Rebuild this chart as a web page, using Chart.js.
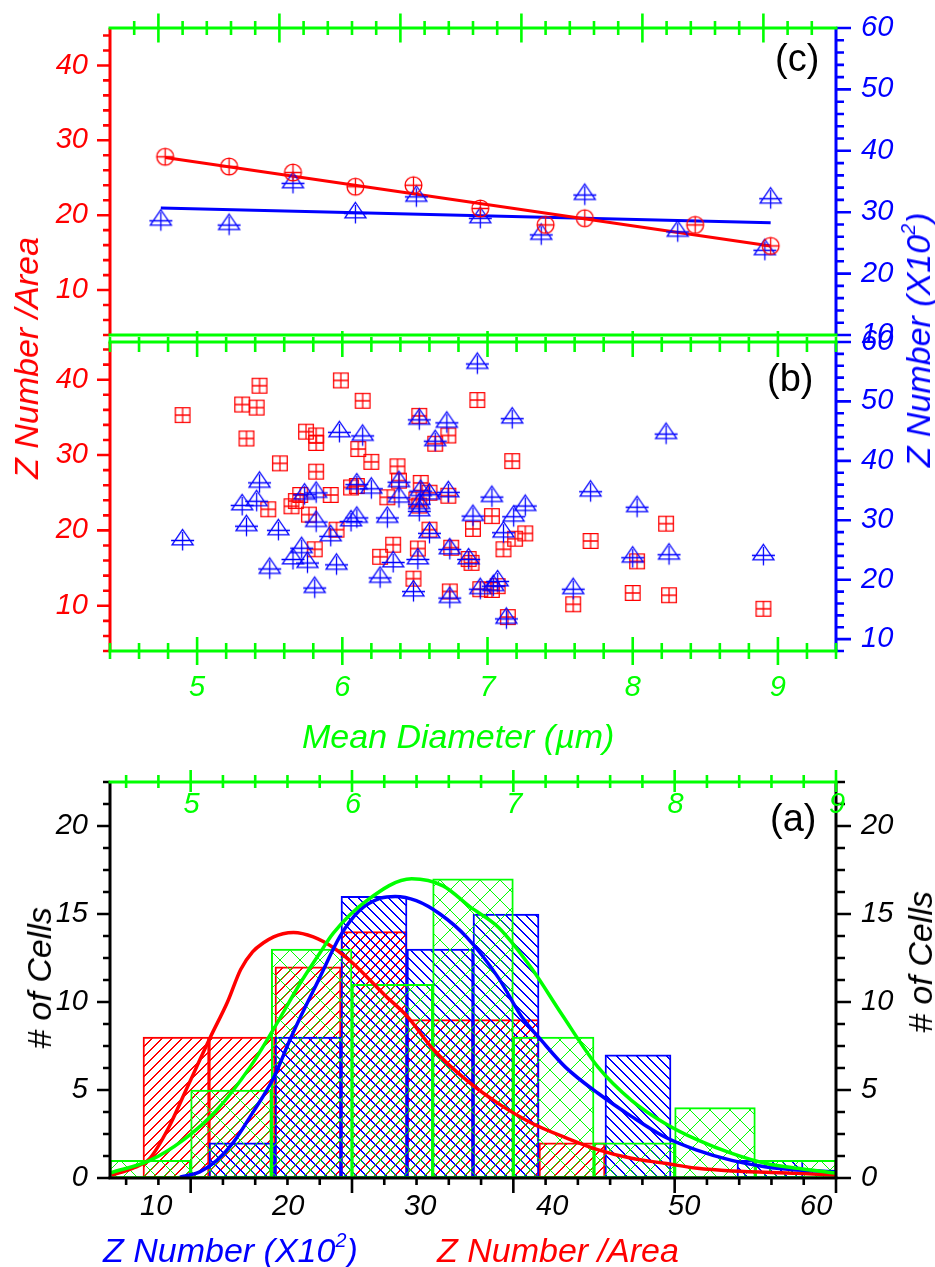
<!DOCTYPE html>
<html>
<head>
<meta charset="utf-8">
<title>Z number vs mean diameter</title>
<script src="https://cdn.jsdelivr.net/npm/chart.js@4.4.1/dist/chart.umd.min.js"></script>
<style>
html,body{margin:0;padding:0;background:#fff;}
#wrap{position:relative;width:935px;height:1267px;overflow:hidden;background:#fff;}
#wrap canvas{position:absolute;left:0;}
.lbl{position:absolute;font-family:"Liberation Sans",Arial,Helvetica,sans-serif;white-space:nowrap;line-height:1;}
.it{font-style:italic;font-size:34px;}
.rot{transform:translate(-50%,-50%) rotate(-90deg);}
.pan{font-size:38px;color:#000;}
sup{font-size:58%;line-height:0;vertical-align:0.75em;}
</style>
</head>
<body>
<div id="wrap">
  <canvas id="cC" width="935" height="360" style="top:0px;width:935px;height:360px"></canvas>
  <canvas id="cB" width="935" height="420" style="top:320px;width:935px;height:420px"></canvas>
  <canvas id="cA" width="935" height="507" style="top:760px;width:935px;height:507px"></canvas>

  <div class="lbl it rot" style="left:25.5px;top:358px;color:#ff0000">Z Number /Area</div>
  <div class="lbl it rot" style="left:917.5px;top:340px;color:#0000ff">Z Number (X10<sup>2</sup>)</div>
  <div class="lbl it" style="left:302px;top:718.6px;color:#00ff00">Mean Diameter (µm)</div>
  <div class="lbl it rot" style="left:39px;top:978px;color:#000">#&nbsp;of Cells</div>
  <div class="lbl it rot" style="left:920px;top:962px;color:#000">#&nbsp;of Cells</div>
  <div class="lbl it" style="left:103px;top:1232.6px;color:#0000ff">Z Number (X10<sup>2</sup>)</div>
  <div class="lbl it" style="left:437px;top:1232.6px;color:#ff0000">Z Number /Area</div>
  <div class="lbl pan" style="left:775px;top:39.2px">(c)</div>
  <div class="lbl pan" style="left:767px;top:358.7px">(b)</div>
  <div class="lbl pan" style="left:770px;top:798.7px">(a)</div>
</div>
<script>
// ===================== DATA =====================
// ---- Panel (c): averaged values vs mean diameter ----
const cDiamRed  = [4.78, 5.22, 5.66, 6.09, 6.49, 6.95, 7.40, 7.67, 8.43, 8.95];
const cZArea    = [27.8, 26.5, 25.7, 23.8, 24.0, 20.9, 18.7, 19.6, 18.7, 15.9];
const cDiamBlue = [4.75, 5.22, 5.66, 6.09, 6.51, 6.95, 7.37, 7.67, 8.31, 8.91, 8.95];
const cZNum     = [28.6, 27.9, 34.7, 29.8, 32.5, 29.0, 26.3, 32.8, 26.8, 23.8, 32.2];
const cFitRedX  = [4.78, 8.95];
const cFitRedY  = [27.7, 15.9];
const cFitBlueX = [4.75, 8.95];
const cFitBlueY = [30.7, 28.3];

// ---- Panel (b): individual cells ----
const bDiamRed = [4.90,5.31,5.41,5.43,5.34,5.57,5.49,5.99,6.14,5.75,5.82,5.82,6.11,6.20,5.82,6.38,6.06,6.10,5.92,5.71,
                  5.65,5.68,5.77,5.81,5.96,6.31,6.39,6.26,6.35,6.49,6.52,6.54,6.51,6.53,6.60,6.60,6.53,6.73,6.64,6.73,
                  6.75,6.74,6.93,7.17,7.03,6.90,6.89,6.87,7.19,7.26,7.11,6.95,7.03,7.07,7.14,7.59,7.71,8.00,8.03,8.23,
                  8.25,8.90];
const bZArea   = [35.3,36.7,36.3,39.2,32.2,28.9,22.8,39.9,37.2,33.1,32.6,31.6,30.8,29.1,27.8,28.5,25.7,25.9,24.7,24.7,
                  23.2,23.9,22.1,17.5,20.1,24.4,26.6,16.5,18.1,13.6,17.6,26.3,24.1,23.3,25.0,20.1,35.2,32.6,31.5,24.6,
                  17.7,11.9,37.3,29.2,21.9,20.2,15.7,16.2,18.9,19.6,17.5,12.2,12.1,12.6,8.5,10.2,18.6,11.7,15.9,20.9,
                  11.4,9.6];
const bDiamBlue = [4.90,5.31,5.34,5.43,5.41,5.56,5.50,5.66,5.72,5.76,5.81,5.74,5.82,5.82,5.92,5.96,5.98,6.14,6.10,6.06,
                   6.10,6.20,6.31,6.26,6.35,6.39,6.39,6.49,6.52,6.53,6.53,6.53,6.54,6.60,6.60,6.64,6.72,6.73,6.74,6.74,
                   6.93,7.17,7.03,6.90,7.18,7.26,7.11,6.87,6.95,7.04,7.07,7.13,7.59,7.71,8.03,8.00,8.23,8.25,8.90];
const bZNum     = [26.6,32.5,29.0,36.3,33.2,28.3,21.8,23.4,25.3,22.8,18.6,34.3,34.6,29.7,27.3,22.5,44.8,44.2,36.0,29.8,
                   30.4,35.3,30.4,20.3,22.9,36.4,33.8,18.0,23.4,46.9,31.5,32.7,34.9,34.3,27.8,43.3,46.4,34.7,25.1,16.9,
                   56.3,47.1,33.9,30.7,30.6,32.4,27.9,23.4,18.4,18.9,19.7,13.4,18.4,34.8,32.2,23.7,44.5,24.2,24.1];

// ---- Panel (a): histograms ----
const zBinCenters    = [11.5, 16.5, 21.5, 26.5, 31.5, 36.5, 41.5, 46.5, 51.5, 56.5];
const zAreaCounts    = [8, 8, 12, 14, 9, 9, 2, 0, 0, 0];
const zNumCounts     = [0, 2, 8, 16, 13, 15, 0, 7, 0, 1];
const diamBinCenters = [4.75, 5.25, 5.75, 6.25, 6.75, 7.25, 7.75, 8.25, 8.75];
const diamCounts     = [1, 5, 13, 11, 17, 8, 2, 4, 1];

const redCurveZ  = [6.6,8.2,9.5,10.9,12.2,13.3,14.1,15.4,16.4,17.3,18.1,18.9,19.6,20.4,21.9,23.4,24.9,27.3,29.0,31.0,33.6,35.9,38.5,41.0,43.5,46.0,48.5,51.0,53.6,58.6,61.5];
const redCurveN  = [0.17,0.55,1.1,2.8,4.9,6.7,8.0,10.0,11.85,12.85,13.35,13.7,13.88,13.95,13.7,13.1,12.2,10.4,9.2,7.3,5.5,4.24,3.1,2.3,1.6,1.12,0.84,0.55,0.4,0.27,0.17];
const blueCurveZ = [11.8,13.3,14.6,15.8,17.3,18.9,20.1,20.9,22.4,23.9,25.4,27.0,28.1,29.7,31.5,33.5,35.9,37.7,39.2,41.0,43.5,46.0,48.5,50.9,53.6,56.1,58.6,61.5];
const blueCurveN = [0.05,0.35,1.0,1.98,3.7,5.7,7.8,9.1,11.4,13.7,15.2,15.9,16.0,15.76,15.0,13.7,11.4,9.15,7.8,6.3,4.8,3.5,2.34,1.6,1.0,0.64,0.45,0.36];
const greenCurveD = [4.506,4.748,4.953,5.161,5.368,5.51,5.678,5.802,5.883,6.091,6.37,6.564,6.732,6.907,7.114,7.30,7.525,7.734,7.941,8.145,8.354,8.561,8.765,8.995];
const greenCurveN = [0.3,1.0,2.15,3.85,6.3,8.4,11.05,12.8,13.9,15.76,17.0,16.6,15.4,14.25,11.9,9.3,6.3,4.4,3.1,2.15,1.4,0.84,0.55,0.28];

// ---- tick labels ----
const zAreaTicks  = [10, 20, 30, 40];
const zNumTicksC  = [10, 20, 30, 40, 50, 60];
const zNumTicksB  = [10, 20, 30, 40, 50, 60];
const diamTicks   = [5, 6, 7, 8, 9];
const zTicksA     = [10, 20, 30, 40, 50, 60];
const countTicks  = [0, 5, 10, 15, 20];

// ===================== HELPERS =====================
const RED='#ff0000', BLUE='#0000ff', GREEN='#00ff00', BLACK='#000000';
const FONT='"Liberation Sans", Arial, Helvetica, sans-serif';
Chart.defaults.font.family = FONT;
const TF = {family: FONT, size: 29, style: 'italic', lineHeight: 1.2};

function steps(a, b, st){ const r=[]; for(let v=a; v<=b+1e-9; v+=st) r.push(Math.round(v*1000)/1000); return r; }
function pts(xs, ys){ return xs.map((x,i)=>({x, y: ys[i]})); }
function bins(cs, ns){ return cs.map((x,i)=>({x, y: ns[i]})).filter(p=>p.y>0); }
function fixTicks(vals){ return s => { s.ticks = vals.map(v=>({value:v})); }; }

function mk(kind, color){
  const c = document.createElement('canvas');
  const S = kind==='sq' ? 18 : kind==='circ' ? 21 : 27;
  c.width = c.height = S;
  const g = c.getContext('2d');
  g.strokeStyle = color; g.lineWidth = 1.3;
  const m = S/2;
  g.beginPath();
  if(kind==='sq'){
    const h=7.3; g.rect(m-h,m-h,2*h,2*h);
    g.moveTo(m,m-h); g.lineTo(m,m+h); g.moveTo(m-h,m); g.lineTo(m+h,m);
  } else if(kind==='circ'){
    const r=8.4; g.arc(m,m,r,0,Math.PI*2);
    g.moveTo(m,m-r); g.lineTo(m,m+r); g.moveTo(m-r,m); g.lineTo(m+r,m);
  } else {
    g.moveTo(m,m-11); g.lineTo(m+10.5,m+4.4); g.lineTo(m-10.5,m+4.4); g.closePath();
    g.moveTo(m-11.5,m); g.lineTo(m+11.5,m);
    g.moveTo(m,m-8.5); g.lineTo(m,m+10);
  }
  g.stroke();
  return c;
}

// crisp diagonal hatch tiles (w = pixels per row)
function hatch(color, P, dirs, w){
  const c = document.createElement('canvas'); c.width = c.height = P;
  const g = c.getContext('2d'); g.fillStyle = color;
  for(const d of dirs){
    for(let i=0;i<P;i++){
      for(let k=0;k<w;k++){
        const x = (i+k) % P;
        if(d==='/') g.fillRect(x, P-1-i, 1, 1);
        else g.fillRect(x, i, 1, 1);
      }
    }
  }
  return document.createElement('canvas').getContext('2d').createPattern(c,'repeat');
}

// axis lines + major/minor tick marks (and inner labels) drawn from the chart's own scales
function axesPlugin(id, specs){
  return { id, afterDatasetsDraw(chart){
    const ctx = chart.ctx, ca = chart.chartArea;
    ctx.save(); ctx.lineCap = 'butt';
    for(const s of specs){
      if(s.labels){
        const sc = chart.scales[s.scale];
        ctx.fillStyle = s.color;
        ctx.font = 'italic 29px ' + FONT;
        ctx.textAlign = 'center'; ctx.textBaseline = 'middle';
        for(const v of s.labels) ctx.fillText(String(v), sc.getPixelForValue(v)+1, ca.top + s.dy);
        continue;
      }
      ctx.strokeStyle = s.color;
      if(s.scale){
        const sc = chart.scales[s.scale];
        ctx.lineWidth = s.tw || 2.6;
        ctx.beginPath();
        for(const t of s.ticks){
          const isMaj = s.majors.some(m=>Math.abs(m-t)<1e-6);
          const [o,i] = isMaj ? s.major : s.minor;
          const p = sc.getPixelForValue(t);
          if(s.side==='left'){ ctx.moveTo(ca.left-o,p); ctx.lineTo(ca.left+i,p); }
          else if(s.side==='right'){ ctx.moveTo(ca.right-i,p); ctx.lineTo(ca.right+o,p); }
          else if(s.side==='top'){ ctx.moveTo(p,ca.top-o); ctx.lineTo(p,ca.top+i); }
          else { ctx.moveTo(p,ca.bottom-i); ctx.lineTo(p,ca.bottom+o); }
        }
        ctx.stroke();
      }
      ctx.lineWidth = s.lw || 3;
      ctx.beginPath();
      if(s.side==='left' || s.side==='right'){
        const x = s.side==='left' ? ca.left : ca.right;
        ctx.moveTo(x, ca.top); ctx.lineTo(x, ca.bottom);
      } else {
        const y = s.side==='top' ? ca.top : ca.bottom;
        ctx.moveTo(ca.left-1.5, y); ctx.lineTo(ca.right+1.5, y);
      }
      ctx.stroke();
    }
    ctx.restore();
  }};
}

function sizeIt(pos, size){
  return s => {
    if(pos==='top'||pos==='bottom') s.height = size; else s.width = size;
    s.paddingTop = 0; s.paddingBottom = 0; s.paddingLeft = 0; s.paddingRight = 0;
  };
}
function hiddenAxis(pos, min, max, size){
  return {type:'linear', position:pos, min, max, offset:false,
    ticks:{display:false}, grid:{display:false, drawTicks:false, offset:false}, border:{display:false},
    afterFit: sizeIt(pos, size)};
}
function labelAxis(pos, min, max, size, vals, color, padding){
  return {type:'linear', position:pos, min, max, offset:false,
    afterBuildTicks: fixTicks(vals),
    ticks:{color, font:TF, padding, autoSkip:false, maxRotation:0, minRotation:0},
    grid:{display:false, drawTicks:false, offset:false}, border:{display:false},
    afterFit: sizeIt(pos, size)};
}

const baseOpts = {responsive:false, animation:false, devicePixelRatio:1, events:[],
  layout:{padding:0}, plugins:{legend:{display:false}, tooltip:{enabled:false}}};

// ===================== PANEL (c) =====================
new Chart(document.getElementById('cC'), {
  type:'scatter',
  data:{datasets:[
    {type:'line', data:pts(cFitRedX,cFitRedY), xAxisID:'x', yAxisID:'y', borderColor:RED, borderWidth:3, pointRadius:0, order:3},
    {type:'line', data:pts(cFitBlueX,cFitBlueY), xAxisID:'x', yAxisID:'y2', borderColor:BLUE, borderWidth:3, pointRadius:0, order:4},
    {label:'Z Number /Area', data:pts(cDiamRed,cZArea), xAxisID:'x', yAxisID:'y', pointStyle:mk('circ',RED), pointRadius:8, order:1},
    {label:'Z Number', data:pts(cDiamBlue,cZNum), xAxisID:'x', yAxisID:'y2', pointStyle:mk('tri',BLUE), pointRadius:8, order:2}
  ]},
  options:Object.assign({}, baseOpts, {scales:{
    x: hiddenAxis('bottom', 4.4, 9.4, 25),
    xt: hiddenAxis('top', 0, 6, 28),
    y: labelAxis('left', 4, 45, 110, zAreaTicks, RED, 22),
    y2: labelAxis('right', 10, 60, 99, zNumTicksC, BLUE, 25)
  }}),
  plugins:[axesPlugin('axC', [
    {side:'left', scale:'y', color:RED, ticks:steps(4,44,2), majors:zAreaTicks, major:[13,0], minor:[7,0]},
    {side:'right', scale:'y2', color:BLUE, ticks:steps(10,60,2), majors:zNumTicksC, major:[15,0], minor:[8,0]},
    {side:'top', scale:'xt', color:GREEN, ticks:steps(0.2,5.8,0.2), majors:[0.4,1.4,2.4,3.4,4.4,5.4], major:[14.5,14.5], minor:[7,7]},
    {side:'bottom', color:GREEN}
  ])]
});

// ===================== PANEL (b) =====================
new Chart(document.getElementById('cB'), {
  type:'scatter',
  data:{datasets:[
    {label:'Z Number /Area', data:pts(bDiamRed,bZArea), xAxisID:'x', yAxisID:'y', pointStyle:mk('sq',RED), pointRadius:8, order:2},
    {label:'Z Number', data:pts(bDiamBlue,bZNum), xAxisID:'x', yAxisID:'y2', pointStyle:mk('tri',BLUE), pointRadius:8, order:1}
  ]},
  options:Object.assign({}, baseOpts, {scales:{
    x: labelAxis('bottom', 4.4, 9.4, 89, diamTicks, GREEN, 20),
    xt: hiddenAxis('top', 4.4, 9.4, 22),
    y: labelAxis('left', 4, 45, 110, zAreaTicks, RED, 22),
    y2: labelAxis('right', 8, 60, 99, zNumTicksB, BLUE, 25)
  }}),
  plugins:[axesPlugin('axB', [
    {side:'left', scale:'y', color:RED, ticks:steps(4,44,2), majors:zAreaTicks, major:[13,0], minor:[7,0]},
    {side:'right', scale:'y2', color:BLUE, ticks:steps(8,60,2), majors:zNumTicksB, major:[15,0], minor:[8,0]},
    {side:'top', scale:'xt', color:GREEN, ticks:steps(4.4,9.4,0.2), majors:diamTicks, major:[11,15], minor:[5,10]},
    {side:'bottom', scale:'x', color:GREEN, ticks:steps(4.4,9.4,0.2), majors:diamTicks, major:[14,14], minor:[8,8]}
  ])]
});

// ===================== PANEL (a) =====================
new Chart(document.getElementById('cA'), {
  type:'bar',
  data:{datasets:[
    {type:'line', label:'fit Z Number /Area', data:pts(redCurveZ,redCurveN), xAxisID:'xz', yAxisID:'y', borderColor:RED, borderWidth:3.5, pointRadius:0, cubicInterpolationMode:'monotone', fill:false, order:3},
    {type:'line', label:'fit Z Number', data:pts(blueCurveZ,blueCurveN), xAxisID:'xz', yAxisID:'y', borderColor:BLUE, borderWidth:3.5, pointRadius:0, cubicInterpolationMode:'monotone', fill:false, order:2},
    {type:'line', label:'fit Mean Diameter', data:pts(greenCurveD,greenCurveN), xAxisID:'xd', yAxisID:'y', borderColor:GREEN, borderWidth:3.5, pointRadius:0, cubicInterpolationMode:'monotone', fill:false, order:1},
    {type:'bar', label:'Z Number /Area', data:bins(zBinCenters,zAreaCounts), xAxisID:'xz', yAxisID:'y', backgroundColor:hatch(RED,10,['/'],2), borderColor:RED, borderWidth:1.3, borderSkipped:false, grouped:false, barPercentage:1, categoryPercentage:1, order:12},
    {type:'bar', label:'Z Number', data:bins(zBinCenters,zNumCounts), xAxisID:'xz', yAxisID:'y', backgroundColor:hatch(BLUE,10,['\\'],2), borderColor:BLUE, borderWidth:1.3, borderSkipped:false, grouped:false, barPercentage:1, categoryPercentage:1, order:11},
    {type:'bar', label:'Mean Diameter', data:bins(diamBinCenters,diamCounts), xAxisID:'xd', yAxisID:'y', backgroundColor:hatch(GREEN,20,['/','\\'],1), borderColor:GREEN, borderWidth:1.3, borderSkipped:false, grouped:false, barPercentage:1, categoryPercentage:1, order:10}
  ]},
  options:Object.assign({}, baseOpts, {scales:{
    xd: hiddenAxis('top', 4.5, 9.0, 22),
    xz: labelAxis('bottom', 6.5, 61.5, 89, zTicksA, BLACK, 12),
    y: labelAxis('left', 0, 22.5, 110, countTicks, BLACK, 22),
    y2: labelAxis('right', 0, 22.5, 99, countTicks, BLACK, 25)
  }}),
  plugins:[axesPlugin('axA', [
    {side:'left', scale:'y', color:BLACK, ticks:steps(0,22.5,1.25), majors:countTicks, major:[13,0], minor:[7,0]},
    {side:'right', scale:'y2', color:BLACK, ticks:steps(0,22.5,1.25), majors:countTicks, major:[15,0], minor:[9,0]},
    {side:'bottom', scale:'xd', color:BLACK, ticks:steps(4.6,9.0,0.2), majors:diamTicks, major:[15,0], minor:[7,0]},
    {side:'top', scale:'xd', color:GREEN, ticks:steps(4.6,9.0,0.2), majors:diamTicks, major:[12,10], minor:[7,6]},
    {labels:diamTicks, scale:'xd', color:GREEN, dy:23}
  ])]
});
</script>
</body>
</html>
